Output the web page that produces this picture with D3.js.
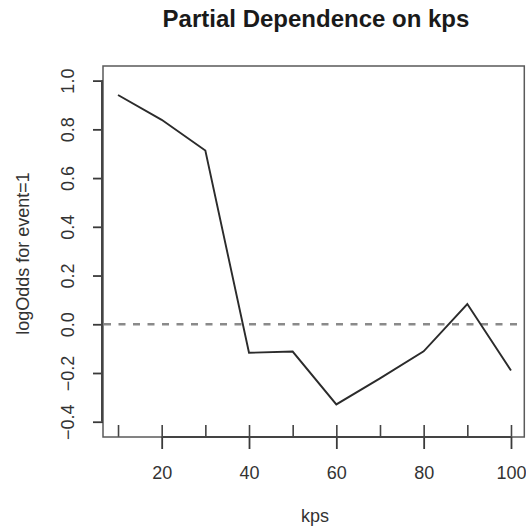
<!DOCTYPE html>
<html>
<head>
<meta charset="utf-8">
<script src="https://cdn.jsdelivr.net/npm/d3@7"></script>
<style>
  html, body { margin: 0; padding: 0; background: #fff; }
  svg { display: block; font-family: "Liberation Sans", Arial, Helvetica, sans-serif; }
  .axis text { font-size: 18px; fill: #333; font-family: "Liberation Sans", Arial, Helvetica, sans-serif; }
</style>
</head>
<body>
<svg id="chart" width="526" height="531"></svg>
<script>
// Partial dependence of log-odds on kps
const kps = [10, 20, 30, 40, 50, 60, 70, 80, 90, 100];
const logOdds = [0.941, 0.839, 0.713, -0.117, -0.112, -0.329, -0.222, -0.111, 0.083, -0.190];
const rugValues = [10, 20, 30, 40, 50, 60, 70, 80, 90, 100];
const xTicks = [20, 40, 60, 80, 100];
const yTicks = [-0.4, -0.2, 0.0, 0.2, 0.4, 0.6, 0.8, 1.0];
const titleText = "Partial Dependence on kps";
const xLabel = "kps";
const yLabel = "logOdds for event=1";

const plot = { left: 103, top: 66, right: 524.3, bottom: 437 };

const svg = d3.select("#chart");

const x = d3.scaleLinear().domain([6.56, 103.05]).range([plot.left, plot.right]);
const y = d3.scaleLinear().domain([-0.4627, 1.060]).range([plot.bottom, plot.top]);

// reference line at zero
svg.append("line")
  .attr("x1", plot.left).attr("x2", plot.right)
  .attr("y1", y(0)).attr("y2", y(0))
  .attr("stroke", "#8a8a8a")
  .attr("stroke-width", 2.6)
  .attr("stroke-dasharray", "7,7.5")
  .attr("stroke-dashoffset", -1);

// partial dependence curve
const line = d3.line().x((d, i) => x(kps[i])).y(d => y(d));
svg.append("path")
  .datum(logOdds)
  .attr("d", line)
  .attr("fill", "none")
  .attr("stroke", "#2b2b2b")
  .attr("stroke-width", 1.9)
  .attr("stroke-linejoin", "miter");

// rug of data deciles along the bottom, inside the plot
const rug = svg.append("g")
  .attr("transform", `translate(0,${plot.bottom})`)
  .call(d3.axisTop(x).tickValues(rugValues).tickSize(12).tickFormat(""));
rug.select(".domain").remove();
rug.selectAll("line").attr("stroke", "#444").attr("stroke-width", 1.6);

// box around plot region
svg.append("rect")
  .attr("x", plot.left).attr("y", plot.top)
  .attr("width", plot.right - plot.left).attr("height", plot.bottom - plot.top)
  .attr("fill", "none")
  .attr("stroke", "#5a5a5a")
  .attr("stroke-width", 1.5);

// x axis
const xAxis = svg.append("g")
  .attr("class", "axis")
  .attr("transform", `translate(0,${plot.bottom})`)
  .call(d3.axisBottom(x).tickValues(xTicks).tickSize(12).tickFormat(d3.format("d")));
xAxis.select(".domain").remove();
xAxis.attr("font-family", null);
xAxis.selectAll(".tick line").attr("stroke", "#3a3a3a").attr("stroke-width", 1.8);
xAxis.selectAll(".tick text").attr("dy", "0").attr("y", 42);
xAxis.append("line")
  .attr("x1", x(xTicks[0])).attr("x2", x(xTicks[xTicks.length - 1]))
  .attr("y1", 0).attr("y2", 0)
  .attr("stroke", "#444").attr("stroke-width", 2);

// y axis with labels parallel to the axis
const yAxis = svg.append("g")
  .attr("class", "axis")
  .attr("transform", `translate(${plot.left},0)`)
  .call(d3.axisLeft(y).tickValues(yTicks).tickSize(10).tickFormat(d3.format(".1f")));
yAxis.select(".domain").remove();
yAxis.attr("font-family", null);
yAxis.selectAll(".tick line").attr("stroke", "#3a3a3a").attr("stroke-width", 1.8);
yAxis.selectAll(".tick text")
  .attr("x", null)
  .attr("text-anchor", "middle")
  .attr("transform", "translate(-35,0) rotate(-90)")
  .attr("dy", "0.35em")
  .text(d => d3.format(".1f")(d).replace("-", "\u2212"));
yAxis.append("line")
  .attr("x1", -1).attr("x2", -1)
  .attr("y1", y(yTicks[0])).attr("y2", y(yTicks[yTicks.length - 1]))
  .attr("stroke", "#444").attr("stroke-width", 2);

// title and axis titles
svg.append("text")
  .attr("x", 316).attr("y", 26.5)
  .attr("text-anchor", "middle")
  .attr("font-size", 24)
  .attr("font-weight", "bold")
  .attr("fill", "#1a1a1a")
  .text(titleText);

svg.append("text")
  .attr("x", 315).attr("y", 522)
  .attr("text-anchor", "middle")
  .attr("font-size", 18)
  .attr("fill", "#333")
  .text(xLabel);

svg.append("text")
  .attr("transform", `translate(23,${(plot.top + plot.bottom) / 2 + 2}) rotate(-90)`)
  .attr("text-anchor", "middle")
  .attr("dy", "0.35em")
  .attr("font-size", 18)
  .attr("fill", "#333")
  .text(yLabel);
</script>
</body>
</html>
